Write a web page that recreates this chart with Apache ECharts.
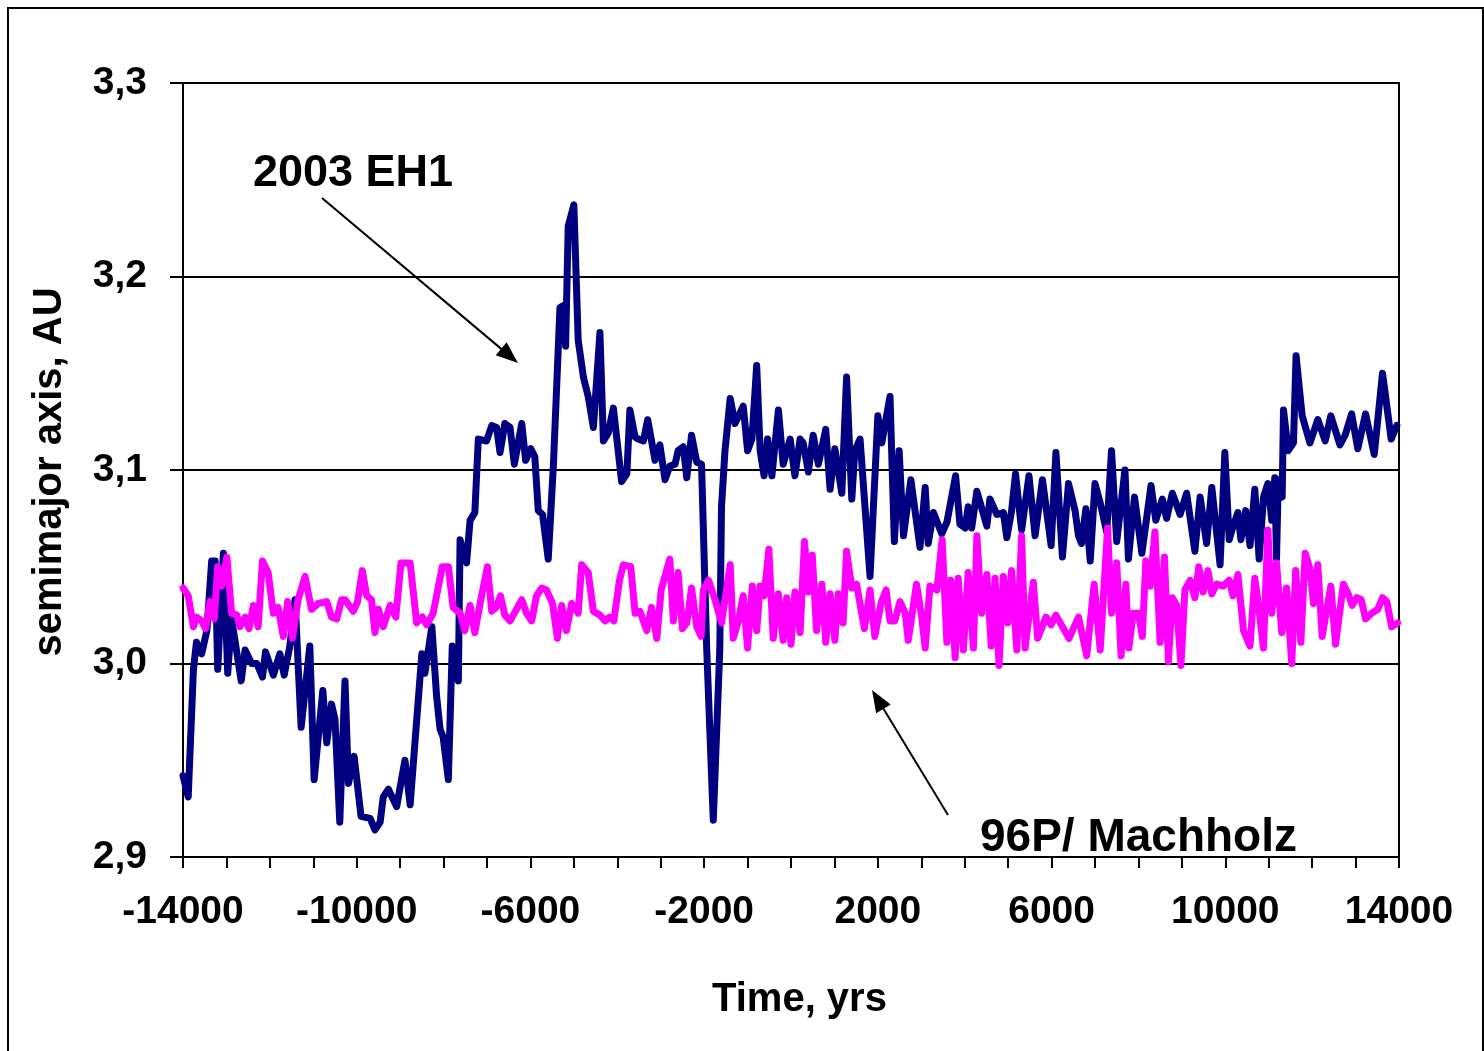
<!DOCTYPE html>
<html>
<head>
<meta charset="utf-8">
<title>Semimajor axis evolution: 2003 EH1 and 96P/Machholz</title>
<script src="https://cdn.jsdelivr.net/npm/echarts@6/dist/echarts.min.js"></script>
<style>
  html, body { margin: 0; padding: 0; background: #ffffff; }
  #chart { width: 1484px; height: 1051px; }
</style>
</head>
<body>
<div id="chart"></div>
<script>
// Time axis (years) and semimajor axis (AU) for asteroid 2003 EH1
const eh1Years = [
  -14000, -13880, -13760, -13690, -13570, -13450, -13340, -13260, -13200, -13070,
  -12970, -12880, -12660, -12570, -12420, -12300, -12170, -12100, -11920, -11770,
  -11670, -11540, -11420, -11280, -11080, -10980, -10780, -10690, -10580, -10500,
  -10390, -10270, -10190, -10060, -9900, -9690, -9580, -9460, -9390, -9270,
  -9080, -8890, -8770, -8500, -8430, -8270, -8160, -8080, -8010, -7890,
  -7800, -7660, -7620, -7470, -7390, -7280, -7200, -7010, -6890, -6780,
  -6700, -6590, -6470, -6370, -6200, -6110, -5990, -5900, -5820, -5720,
  -5590, -5470, -5320, -5240, -5190, -5130, -5000, -4900, -4780, -4670,
  -4550, -4400, -4320, -4210, -4090, -3900, -3780, -3710, -3590, -3520,
  -3400, -3300, -3130, -3020, -2900, -2790, -2670, -2600, -2480, -2400,
  -2290, -2170, -2060, -1940, -1790, -1640, -1600, -1520, -1400, -1290,
  -1100, -1000, -900, -790, -710, -620, -540, -440, -290, -180,
  -20, 90, 210, 280, 400, 510, 630, 800, 900, 1010,
  1170, 1280, 1400, 1470, 1590, 1820, 2000, 2090, 2280, 2380,
  2490, 2590, 2760, 2970, 3090, 3160, 3280, 3470, 3590, 3790,
  3890, 4010, 4080, 4160, 4280, 4510, 4580, 4740, 4890, 4970,
  5080, 5170, 5310, 5480, 5620, 5790, 5990, 6100, 6250, 6390,
  6540, 6620, 6690, 6790, 6890, 7000, 7120, 7270, 7380, 7500,
  7690, 7770, 7910, 8080, 8290, 8400, 8550, 8650, 8780, 8960,
  9110, 9300, 9420, 9570, 9690, 9880, 9990, 10090, 10180, 10290,
  10360, 10470, 10570, 10680, 10780, 10880, 10980, 11070, 11140, 11180,
  11220, 11310, 11340, 11450, 11570, 11630, 11770, 11950, 12130, 12300,
  12430, 12640, 12760, 12910, 13050, 13230, 13430, 13620, 13820, 13950
];
const eh1Values = [
  2.942, 2.931, 2.997, 3.011, 3.005, 3.017, 3.053, 3.053, 2.997, 3.057,
  2.995, 3.023, 2.991, 3.007, 3.000, 3.000, 2.993, 3.006, 2.994, 3.005,
  2.994, 3.009, 3.033, 2.967, 3.009, 2.940, 2.986, 2.959, 2.979, 2.971,
  2.918, 2.991, 2.938, 2.952, 2.921, 2.920, 2.914, 2.918, 2.931, 2.935,
  2.926, 2.950, 2.927, 3.005, 2.995, 3.019, 2.983, 2.966, 2.962, 2.940,
  3.009, 2.991, 3.064, 3.052, 3.074, 3.078, 3.116, 3.115, 3.123, 3.122,
  3.109, 3.124, 3.122, 3.103, 3.124, 3.105, 3.111, 3.107, 3.079, 3.077,
  3.054, 3.103, 3.184, 3.185, 3.164, 3.226, 3.237, 3.167, 3.148, 3.138,
  3.122, 3.171, 3.115, 3.119, 3.132, 3.094, 3.098, 3.131, 3.117, 3.116,
  3.115, 3.126, 3.105, 3.113, 3.095, 3.102, 3.103, 3.110, 3.112, 3.096,
  3.118, 3.104, 3.103, 3.007, 2.919, 3.007, 3.081, 3.110, 3.137, 3.124,
  3.133, 3.110, 3.116, 3.154, 3.110, 3.097, 3.116, 3.097, 3.131, 3.103,
  3.116, 3.097, 3.116, 3.114, 3.099, 3.118, 3.103, 3.121, 3.090, 3.111,
  3.088, 3.148, 3.085, 3.110, 3.116, 3.045, 3.128, 3.114, 3.138, 3.063,
  3.110, 3.066, 3.095, 3.060, 3.091, 3.062, 3.078, 3.067, 3.073, 3.097,
  3.072, 3.070, 3.081, 3.070, 3.089, 3.071, 3.085, 3.077, 3.078, 3.065,
  3.079, 3.098, 3.069, 3.097, 3.066, 3.095, 3.061, 3.109, 3.055, 3.093,
  3.079, 3.066, 3.062, 3.080, 3.053, 3.093, 3.083, 3.068, 3.110, 3.063,
  3.100, 3.054, 3.086, 3.057, 3.092, 3.074, 3.085, 3.075, 3.088, 3.077,
  3.088, 3.058, 3.086, 3.062, 3.091, 3.051, 3.109, 3.064, 3.071, 3.078,
  3.064, 3.079, 3.061, 3.090, 3.054, 3.086, 3.093, 3.074, 3.096, 3.054,
  3.095, 3.086, 3.131, 3.110, 3.114, 3.159, 3.128, 3.114, 3.126, 3.115,
  3.128, 3.113, 3.118, 3.129, 3.111, 3.129, 3.108, 3.150, 3.116, 3.123
];

// Time axis (years) and semimajor axis (AU) for comet 96P/Machholz
const machYears = [
  -14000, -13880, -13760, -13690, -13570, -13480, -13380, -13280, -13200, -13110,
  -12990, -12880, -12760, -12690, -12570, -12480, -12380, -12270, -12170, -12040,
  -11920, -11810, -11690, -11590, -11480, -11350, -11190, -11040, -10890, -10690,
  -10580, -10460, -10350, -10270, -10080, -9980, -9870, -9770, -9660, -9580,
  -9500, -9390, -9230, -9100, -8980, -8770, -8620, -8490, -8390, -8240,
  -8030, -7890, -7780, -7620, -7510, -7390, -7280, -7160, -6990, -6890,
  -6790, -6690, -6590, -6470, -6320, -6200, -6090, -5970, -5860, -5740,
  -5630, -5490, -5380, -5280, -5170, -5050, -4900, -4820, -4670, -4550,
  -4400, -4280, -4180, -4080, -3950, -3860, -3690, -3590, -3480, -3320,
  -3210, -3090, -2990, -2790, -2710, -2600, -2500, -2400, -2290, -2170,
  -2070, -2020, -1900, -1750, -1600, -1400, -1330, -1210, -1100, -1000,
  -890, -790, -710, -620, -510, -410, -290, -180, -100, 0,
  90, 210, 310, 400, 490, 590, 710, 800, 900, 1010,
  1090, 1200, 1280, 1400, 1510, 1690, 1820, 1930, 2070, 2190,
  2280, 2390, 2510, 2630, 2700, 2890, 3010, 3090, 3200, 3360,
  3480, 3590, 3680, 3780, 3850, 3970, 4080, 4200, 4280, 4390,
  4510, 4610, 4700, 4790, 4890, 4990, 5080, 5200, 5310, 5390,
  5580, 5680, 5870, 5990, 6100, 6400, 6620, 6810, 6980, 7120,
  7290, 7380, 7500, 7600, 7710, 7780, 7880, 8000, 8090, 8170,
  8270, 8380, 8500, 8600, 8690, 8780, 8880, 8980, 9070, 9190,
  9300, 9390, 9490, 9600, 9690, 9800, 9950, 10090, 10180, 10290,
  10420, 10570, 10680, 10760, 10880, 10980, 11070, 11180, 11300, 11410,
  11530, 11620, 11740, 11840, 11950, 12030, 12130, 12230, 12430, 12540,
  12720, 12830, 12920, 13030, 13130, 13230, 13370, 13510, 13620, 13720,
  13830, 13970
];
const machValues = [
  3.039, 3.035, 3.019, 3.024, 3.022, 3.018, 3.032, 3.023, 3.050, 3.040,
  3.055, 3.026, 3.025, 3.019, 3.024, 3.018, 3.030, 3.019, 3.053, 3.047,
  3.026, 3.029, 3.014, 3.032, 3.013, 3.033, 3.045, 3.028, 3.031, 3.032,
  3.024, 3.023, 3.033, 3.033, 3.027, 3.032, 3.048, 3.035, 3.033, 3.016,
  3.028, 3.019, 3.030, 3.024, 3.052, 3.052, 3.021, 3.024, 3.020, 3.026,
  3.050, 3.050, 3.029, 3.026, 3.017, 3.030, 3.016, 3.031, 3.050, 3.027,
  3.029, 3.035, 3.025, 3.022, 3.028, 3.033, 3.026, 3.022, 3.035, 3.039,
  3.038, 3.031, 3.013, 3.030, 3.017, 3.031, 3.026, 3.051, 3.047, 3.027,
  3.025, 3.022, 3.024, 3.022, 3.043, 3.051, 3.050, 3.026, 3.027, 3.017,
  3.029, 3.013, 3.038, 3.054, 3.022, 3.047, 3.018, 3.021, 3.039, 3.019,
  3.014, 3.038, 3.043, 3.033, 3.021, 3.051, 3.013, 3.022, 3.035, 3.008,
  3.040, 3.017, 3.040, 3.035, 3.059, 3.013, 3.036, 3.012, 3.034, 3.010,
  3.037, 3.016, 3.063, 3.037, 3.056, 3.017, 3.041, 3.011, 3.036, 3.012,
  3.036, 3.021, 3.058, 3.039, 3.041, 3.018, 3.038, 3.014, 3.031, 3.038,
  3.022, 3.022, 3.032, 3.026, 3.012, 3.041, 3.024, 3.008, 3.040, 3.038,
  3.064, 3.011, 3.043, 3.003, 3.044, 3.007, 3.047, 3.008, 3.066, 3.026,
  3.046, 3.009, 3.044, 2.999, 3.045, 3.021, 3.048, 3.007, 3.066, 3.008,
  3.042, 3.013, 3.024, 3.020, 3.025, 3.013, 3.024, 3.004, 3.041, 3.007,
  3.070, 3.026, 3.052, 3.004, 3.041, 3.008, 3.026, 3.026, 3.014, 3.053,
  3.040, 3.068, 3.011, 3.055, 3.001, 3.034, 3.030, 2.999, 3.038, 3.043,
  3.034, 3.050, 3.037, 3.048, 3.036, 3.041, 3.040, 3.043, 3.035, 3.046,
  3.017, 3.009, 3.044, 3.031, 3.008, 3.069, 3.026, 3.052, 3.016, 3.039,
  3.000, 3.048, 3.011, 3.057, 3.049, 3.031, 3.051, 3.014, 3.040, 3.010,
  3.041, 3.036, 3.030, 3.034, 3.033, 3.023, 3.026, 3.028, 3.034, 3.032,
  3.019, 3.021
];

// Axis ranges and tick labels
const xMin = -14000, xMax = 14000, xTickStep = 1000;
const xLabelValues = [-14000, -10000, -6000, -2000, 2000, 6000, 10000, 14000];
const yMin = 2.9, yMax = 3.3, yTickStep = 0.1;

const FONT = '"Liberation Sans", Arial, Helvetica, sans-serif';

const pairs = (xs, ys) => xs.map((x, i) => [x, ys[i]]);

const chart = echarts.init(document.getElementById('chart'), null, { renderer: 'canvas' });

// Arrow annotation: shaft plus filled head at the tip
function arrow(x1, y1, x2, y2) {
  const dx = x2 - x1, dy = y2 - y1;
  const len = Math.hypot(dx, dy);
  const ux = dx / len, uy = dy / len;
  const nx = -uy, ny = ux;
  const headLen = 22, halfW = 8.5;
  const bx = x2 - ux * headLen, by = y2 - uy * headLen;
  return [
    {
      type: 'line',
      shape: { x1: x1, y1: y1, x2: bx + ux * 2, y2: by + uy * 2 },
      style: { stroke: '#000', lineWidth: 2 },
      z: 100
    },
    {
      type: 'polygon',
      shape: { points: [[x2, y2], [bx + nx * halfW, by + ny * halfW], [bx - nx * halfW, by - ny * halfW]] },
      style: { fill: '#000' },
      z: 100
    }
  ];
}

const option = {
  backgroundColor: '#ffffff',
  animation: false,
  grid: {
    left: 183, top: 83, width: 1216, height: 774,
    show: true, borderColor: '#000', borderWidth: 2,
    containLabel: false
  },
  xAxis: {
    type: 'value',
    min: xMin, max: xMax, interval: xTickStep,
    axisLine: { show: true, onZero: false, lineStyle: { color: '#000', width: 2 } },
    axisTick: { show: true, inside: false, length: 11, lineStyle: { color: '#000', width: 2 } },
    splitLine: { show: false },
    axisLabel: {
      margin: 36,
      color: '#000',
      fontFamily: FONT, fontWeight: 'bold', fontSize: 39,
      hideOverlap: false,
      formatter: v => (xLabelValues.indexOf(v) >= 0 ? String(v) : '')
    }
  },
  yAxis: {
    type: 'value',
    min: yMin, max: yMax, interval: yTickStep,
    axisLine: { show: true, onZero: false, lineStyle: { color: '#000', width: 2 } },
    axisTick: { show: true, inside: false, length: 13, lineStyle: { color: '#000', width: 2 } },
    splitLine: { show: true, lineStyle: { color: '#000', width: 2 } },
    axisLabel: {
      margin: 36,
      color: '#000',
      fontFamily: FONT, fontWeight: 'bold', fontSize: 39,
      formatter: v => v.toFixed(1).replace('.', ',')
    }
  },
  series: [
    {
      name: '2003 EH1',
      type: 'line',
      data: pairs(eh1Years, eh1Values),
      showSymbol: false,
      symbol: 'none',
      smooth: false,
      lineStyle: { color: '#000080', width: 7, join: 'round', cap: 'round' },
      z: 3
    },
    {
      name: '96P/ Machholz',
      type: 'line',
      data: pairs(machYears, machValues),
      showSymbol: false,
      symbol: 'none',
      smooth: false,
      lineStyle: { color: '#ff00ff', width: 7, join: 'round', cap: 'round' },
      z: 4
    }
  ],
  graphic: [
    {
      type: 'rect',
      shape: { x: 8, y: 8, width: 1475, height: 1060 },
      style: { fill: 'none', stroke: '#000', lineWidth: 2 },
      silent: true, z: 0
    },
    {
      type: 'text',
      x: 712, y: 1000,
      style: { text: 'Time, yrs', fill: '#000', font: 'bold 40px ' + FONT, align: 'left', verticalAlign: 'middle' }
    },
    {
      type: 'text',
      x: 50, y: 472, rotation: Math.PI / 2,
      style: { text: 'semimajor axis, AU', fill: '#000', font: 'bold 40px ' + FONT, align: 'center', verticalAlign: 'middle' }
    },
    {
      type: 'text',
      x: 253, y: 174,
      style: { text: '2003 EH1', fill: '#000', font: 'bold 45px ' + FONT, align: 'left', verticalAlign: 'middle' },
      z: 100
    },
    {
      type: 'text',
      x: 980, y: 838,
      style: { text: '96P/ Machholz', fill: '#000', font: 'bold 46px ' + FONT, align: 'left', verticalAlign: 'middle' },
      z: 100
    }
  ].concat(arrow(322, 198, 518, 363), arrow(948, 815, 872, 690))
};

chart.setOption(option);
</script>
</body>
</html>
